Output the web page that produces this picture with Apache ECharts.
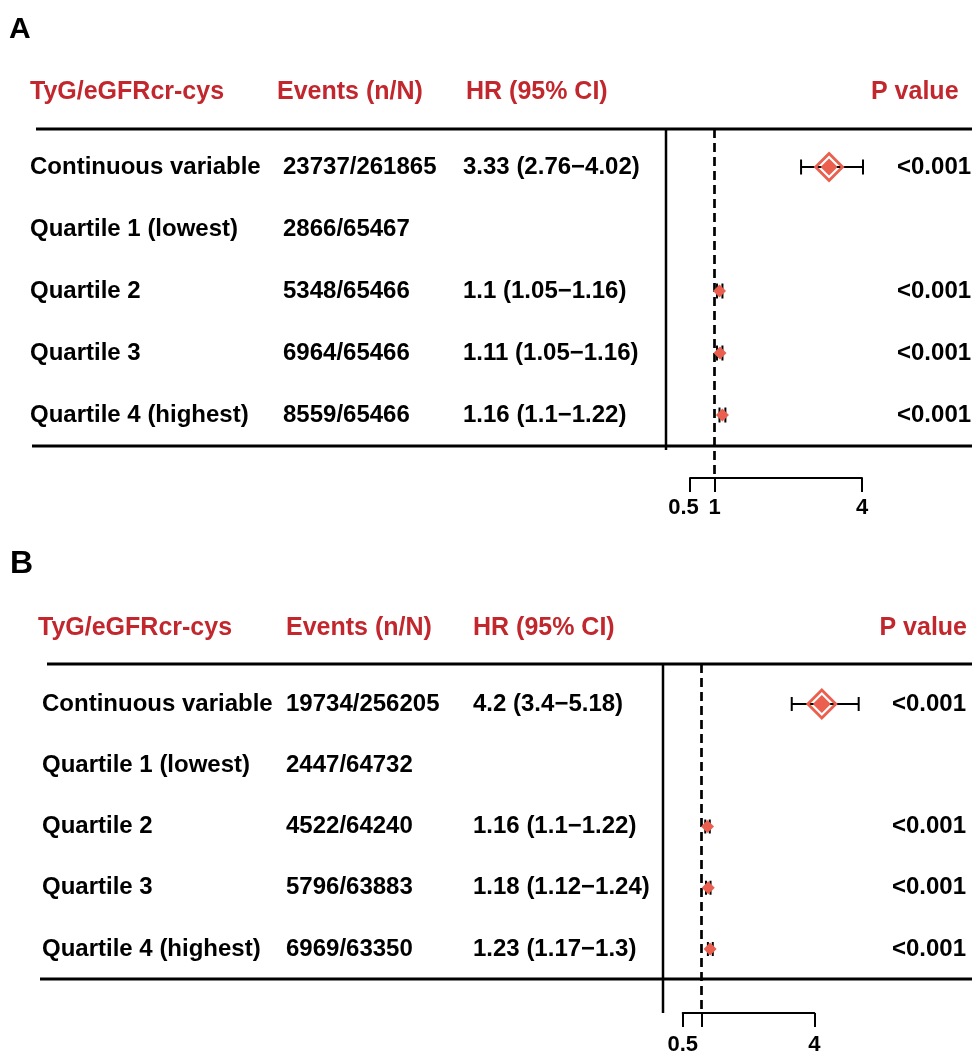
<!DOCTYPE html>
<html><head><meta charset="utf-8">
<script src="https://cdn.jsdelivr.net/npm/echarts@6/dist/echarts.min.js"></script>
<style>html,body{margin:0;padding:0;background:#fff}#c{width:972px;height:1052px}</style>
</head><body><div id="c"></div>
<script>
// ---------- data ----------
const rowLabels = ["Continuous variable", "Quartile 1 (lowest)", "Quartile 2", "Quartile 3", "Quartile 4 (highest)"];
const headers = ["TyG/eGFRcr-cys", "Events (n/N)", "HR (95% CI)", "P value"];

const eventsA = ["23737/261865", "2866/65467", "5348/65466", "6964/65466", "8559/65466"];
const hrA = [3.33, null, 1.1, 1.11, 1.16];
const loA = [2.76, null, 1.05, 1.05, 1.1];
const hiA = [4.02, null, 1.16, 1.16, 1.22];
const pA = ["<0.001", "", "<0.001", "<0.001", "<0.001"];
const ticksA = [0.5, 1, 4];
const tickLabelsA = [0.5, 1, 4];

const eventsB = ["19734/256205", "2447/64732", "4522/64240", "5796/63883", "6969/63350"];
const hrB = [4.2, null, 1.16, 1.18, 1.23];
const loB = [3.4, null, 1.1, 1.12, 1.17];
const hiB = [5.18, null, 1.22, 1.24, 1.3];
const pB = ["<0.001", "", "<0.001", "<0.001", "<0.001"];
const ticksB = [0.5, 1, 4];
const tickLabelsB = [0.5, 4];

const refValue = 1;
const axisMin = 0.5, axisMax = 4;

// ---------- style / layout ----------
const RED = '#C1272D', MARK = '#EA5F4E';
const FONT = '"Liberation Sans", Arial, Helvetica, sans-serif';

const panels = [
  { letter: 'A', events: eventsA, hr: hrA, lo: loA, hi: hiA, p: pA, ticks: ticksA, tickLabels: tickLabelsA,
    grid: { left: 690, width: 172, top: 129, height: 349 }, yMin: -0.613, yMax: 5.016,
    big: 13.5, small: 6.5, inner: 8.5, capH: 7.5, firstLabelShift: 13,
    headX: [30, 277, 466], colX: [30, 283, 463], pHeadX: 871, pHeadAlign: 'left', pX: 897, pAlign: 'left',
    headerY: 92, topLineLeft: 36, botLineLeft: 32, bottomRow: 4.5,
    vLineX: 666, vLineBottom: 450, labelMargin: 19,
    letterX: 9, letterY: 30, letterSize: 30 },
  { letter: 'B', events: eventsB, hr: hrB, lo: loB, hi: hiB, p: pB, ticks: ticksB, tickLabels: tickLabelsB,
    grid: { left: 682.7, width: 131.6, top: 664, height: 349 }, yMin: -0.653, yMax: 5.045,
    big: 14, small: 6.5, inner: 9, capH: 7, firstLabelShift: 0,
    headX: [38, 286, 473], colX: [42, 286, 473], pHeadX: 967, pHeadAlign: 'right', pX: 966, pAlign: 'right',
    headerY: 628, topLineLeft: 47, botLineLeft: 40, bottomRow: 4.49,
    vLineX: 663, vLineBottom: 1013, labelMargin: 21,
    letterX: 10, letterY: 564, letterSize: 32 }
];

const fmt = v => String(v);
const hrText = (h, l, u) => h == null ? '' : `${fmt(h)} (${fmt(l)}\u2212${fmt(u)})`;

function diamond(cx, cy, r) {
  return [[cx - r, cy], [cx, cy - r], [cx + r, cy], [cx, cy + r]];
}

const chart = echarts.init(document.getElementById('c'), null, { renderer: 'canvas', width: 972, height: 1052 });

const labelRich = p => ({
  n: { fontSize: 22, fontWeight: 'bold', fontFamily: FONT, color: '#000' },
  s: { fontSize: 22, fontWeight: 'bold', fontFamily: FONT, color: '#000', padding: [0, p.firstLabelShift, 0, 0] }
});

const option = {
  animation: false,
  backgroundColor: '#fff',
  grid: panels.map(p => Object.assign({ containLabel: false, outerBoundsMode: 'none' }, p.grid)),
  xAxis: panels.map((p, k) => ({
    type: 'value', gridIndex: k, min: axisMin, max: axisMax,
    splitLine: { show: false },
    axisLine: { show: true, onZero: false, lineStyle: { color: '#000', width: 2 } },
    axisTick: { show: true, length: 14, customValues: p.ticks, lineStyle: { color: '#000', width: 2 } },
    axisLabel: { show: true, customValues: p.tickLabels, margin: p.labelMargin, color: '#000',
      fontSize: 22, fontWeight: 'bold', fontFamily: FONT, rich: labelRich(p),
      formatter: v => (v === axisMin && p.firstLabelShift ? '{s|' : '{n|') + fmt(v) + '}' }
  })),
  yAxis: panels.map((p, k) => ({
    type: 'value', gridIndex: k, inverse: true, min: p.yMin, max: p.yMax, show: false
  })),
  series: panels.map((p, k) => ({
    type: 'custom', xAxisIndex: k, yAxisIndex: k, clip: false, z: 5,
    data: p.hr.map((v, i) => v == null ? null : [v, p.lo[i], p.hi[i], i, i === 0 ? 1 : 0]).filter(Boolean),
    renderItem: (params, api) => {
      const c = api.coord([api.value(0), api.value(3)]);
      const l = api.coord([api.value(1), api.value(3)]);
      const h = api.coord([api.value(2), api.value(3)]);
      const isBig = api.value(4) === 1;
      const y = c[1];
      const ch = [];
      const lineStyle = { stroke: '#000', lineWidth: 2 };
      ch.push({ type: 'line', shape: { x1: l[0], y1: y, x2: h[0], y2: y }, style: lineStyle });
      ch.push({ type: 'line', shape: { x1: l[0], y1: y - p.capH, x2: l[0], y2: y + p.capH }, style: lineStyle });
      ch.push({ type: 'line', shape: { x1: h[0], y1: y - p.capH, x2: h[0], y2: y + p.capH }, style: lineStyle });
      if (isBig) {
        ch.push({ type: 'polygon', shape: { points: diamond(c[0], y, p.big) }, style: { fill: null, stroke: MARK, lineWidth: 2.8 } });
        ch.push({ type: 'polygon', shape: { points: diamond(c[0], y, p.inner) }, style: { fill: MARK } });
      } else {
        ch.push({ type: 'polygon', shape: { points: diamond(c[0], y, p.small) }, style: { fill: MARK } });
      }
      return { type: 'group', children: ch };
    },
    markLine: {
      silent: true, symbol: 'none', label: { show: false },
      lineStyle: { color: '#000', width: 2.7, type: [9, 5] },
      data: [{ xAxis: refValue }]
    }
  }))
};
chart.setOption(option);

// ---------- table text & rules ----------
const graphics = [];
function txt(x, y, text, opts) {
  graphics.push({
    type: 'text', x: x, y: y, z: 10,
    style: Object.assign({
      text: text, fill: '#000', fontSize: 24, fontWeight: 'bold', fontFamily: FONT,
      align: 'left', verticalAlign: 'middle', textAlign: 'left', textVerticalAlign: 'middle'
    }, opts || {})
  });
}
function line(x1, y1, x2, y2, w) {
  graphics.push({ type: 'line', z: 3, shape: { x1, y1, x2, y2 }, style: { stroke: '#000', lineWidth: w || 2.5 } });
}

panels.forEach((p, k) => {
  const px = (x, r) => chart.convertToPixel({ gridIndex: k }, [x, r]);
  const topY = px(axisMin, p.yMin)[1];
  const botY = px(axisMin, p.bottomRow)[1];
  // panel letter
  txt(p.letterX, p.letterY, p.letter, { fontSize: p.letterSize });
  // headers
  headers.slice(0, 3).forEach((h, j) => txt(p.headX[j], p.headerY, h, { fill: RED, fontSize: 25 }));
  txt(p.pHeadX, p.headerY, headers[3], { fill: RED, fontSize: 25, align: p.pHeadAlign, textAlign: p.pHeadAlign });
  // rows
  rowLabels.forEach((lab, i) => {
    const y = px(axisMin, i)[1];
    txt(p.colX[0], y, lab);
    txt(p.colX[1], y, p.events[i]);
    txt(p.colX[2], y, hrText(p.hr[i], p.lo[i], p.hi[i]));
    if (p.p[i]) txt(p.pX, y, p.p[i], { align: p.pAlign, textAlign: p.pAlign });
  });
  // rules
  line(p.topLineLeft, topY, 972, topY, 2.8);
  line(p.botLineLeft, botY, 972, botY, 2.8);
  line(p.vLineX, topY, p.vLineX, p.vLineBottom, 2.5);
});

chart.setOption({ graphic: { elements: graphics } });
</script>
</body></html>
